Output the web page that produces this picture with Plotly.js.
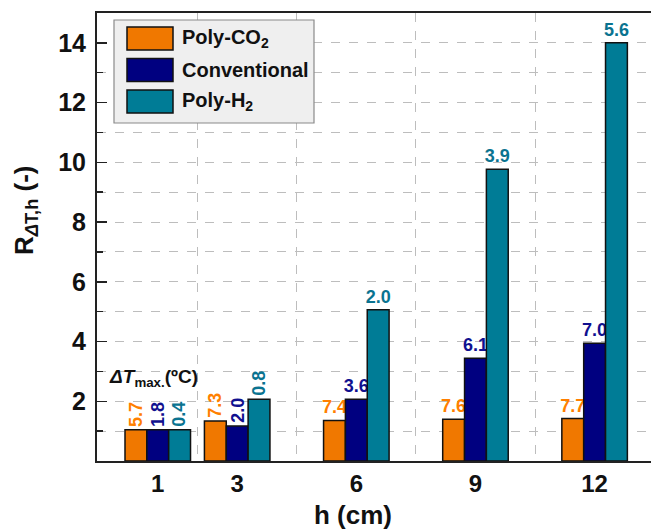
<!DOCTYPE html>
<html>
<head>
<meta charset="utf-8">
<script src="https://cdn.plot.ly/plotly-3.0.1.min.js"></script>
<style>html,body{margin:0;padding:0;background:#fff;}#chart{width:651px;height:530px;}</style>
</head>
<body>
<div id="chart"></div>
<script>
// ---- data ----
const heights = [1, 3, 6, 9, 12];
const seriesNames = ["Poly-CO<sub>2</sub>", "Conventional", "Poly-H<sub>2</sub>"];
const polyCO2 = [1.05, 1.34, 1.36, 1.40, 1.42];
const conventional = [1.05, 1.17, 2.07, 3.44, 3.94];
const polyH2 = [1.05, 2.07, 5.06, 9.77, 14.0];
const dTpolyCO2 = ["5.7", "7.3", "7.4", "7.6", "7.7"];
const dTconventional = ["1.8", "2.0", "3.6", "6.1", "7.0"];
const dTpolyH2 = ["0.4", "0.8", "2.0", "3.9", "5.6"];
const yTickVals = [2, 4, 6, 8, 10, 12, 14];
const groupBounds = [2, 4.5, 7.5, 10.5];

// ---- style ----
const barColors = ["#F07800", "#000080", "#007C96"];
const textColors = ["#FF7F00", "#10108F", "#0A7390"];
const FONT = "'Liberation Sans', Arial, sans-serif";
const nVertical = 2; // first groups carry vertical labels
const BARGAP = 0.175;

const allVals = [polyCO2, conventional, polyH2];
const allText = [dTpolyCO2, dTconventional, dTpolyH2];

// slot geometry of grouped bars (from bargap and the smallest spacing of positions)
let minSpacing = Infinity;
for (let i = 1; i < heights.length; i++) minSpacing = Math.min(minSpacing, heights[i] - heights[i - 1]);
const slotW = minSpacing * (1 - BARGAP) / allVals.length;

const annotations = [];
const traces = allVals.map((vals, s) => ({
  type: "bar",
  x: heights,
  y: vals,
  text: allText[s].map((t, i) => (i < nVertical ? "" : t)),
  name: seriesNames[s],
  offsetgroup: "g" + s,
  showlegend: false,
  textposition: "outside",
  textangle: 0,
  constraintext: "none",
  cliponaxis: false,
  textfont: {family: FONT, size: 18, weight: "bold", color: textColors[s]},
  marker: {color: barColors[s], line: {color: "#111", width: 1.5}},
  hoverinfo: "x+y"
}));

// vertical labels for the first groups
allVals.forEach((vals, s) => {
  for (let i = 0; i < nVertical; i++) {
    annotations.push({
      xref: "x", yref: "y", x: heights[i] + (s - (allVals.length - 1) / 2) * slotW, y: vals[i],
      text: allText[s][i], textangle: -90, showarrow: false,
      xanchor: "center", yanchor: "bottom", yshift: 1,
      font: {family: FONT, size: 18, weight: "bold", color: textColors[s]}
    });
  }
});

// custom legend (shapes + annotations in paper coords)
const L = 97, R = 651, T = 13, B = 461;
const px = v => (v - L) / (R - L);
const py = v => (B - v) / (B - T);
const shapes = [
  {type: "rect", xref: "paper", yref: "paper", x0: px(114), x1: px(314), y0: py(123), y1: py(20),
   fillcolor: "#EFEFEF", line: {color: "#8A8A8A", width: 1.2}, layer: "above"}
];
seriesNames.forEach((n, i) => {
  const yc = 38.5 + i * 31.5;
  shapes.push({type: "rect", xref: "paper", yref: "paper", x0: px(127), x1: px(173),
    y0: py(yc + 11.5), y1: py(yc - 11.5), fillcolor: barColors[i],
    line: {color: "#111", width: 1.5}, layer: "above"});
  annotations.push({xref: "paper", yref: "paper", x: px(180), y: py(yc), xanchor: "left", yanchor: "middle",
    text: n, showarrow: false, font: {family: FONT, size: 20, weight: "bold", color: "#111"}});
});
annotations.push({xref: "x", yref: "y", x: 0.9, y: 2.78, xanchor: "center", yanchor: "middle",
  text: "<i>ΔT</i><sub>max.</sub>(ºC)", showarrow: false,
  font: {family: FONT, size: 19, weight: "bold", color: "#111"}});
annotations.push({xref: "paper", yref: "paper", x: px(25), y: py(211), xanchor: "center", yanchor: "middle",
  textangle: -90, text: "R<sub><i>Δ</i>T,h</sub> (-)", showarrow: false,
  font: {family: FONT, size: 26, weight: "bold", color: "#111"}});
annotations.push({xref: "paper", yref: "paper", x: px(353), y: py(515), xanchor: "center", yanchor: "middle",
  text: "h (cm)", showarrow: false, font: {family: FONT, size: 26, weight: "bold", color: "#111"}});

const layout = {
  width: 651, height: 530,
  margin: {l: L, r: 0, t: T, b: 530 - B},
  paper_bgcolor: "#fff", plot_bgcolor: "#fff",
  barmode: "group", bargap: BARGAP, bargroupgap: 0,
  showlegend: false,
  font: {family: FONT, color: "#111"},
  xaxis: {
    range: [-0.53, 13.42], tickmode: "array", tickvals: heights, ticktext: heights.map(String),
    ticks: "", showgrid: false, zeroline: false,
    showline: true, linewidth: 2, linecolor: "#222", mirror: true,
    tickfont: {family: FONT, size: 24, weight: "bold", color: "#111"},
    minor: {tickmode: "array", tickvals: groupBounds, showgrid: true, gridcolor: "#BDBDBD",
            griddash: "dash", gridwidth: 1, ticks: ""}
  },
  yaxis: {
    range: [0, 15], tickmode: "array", tickvals: yTickVals,
    ticks: "inside", ticklen: 10, tickwidth: 1.5, tickcolor: "#222",
    showgrid: true, gridcolor: "#BDBDBD", griddash: "dash", gridwidth: 1,
    zeroline: false, showline: true, linewidth: 2, linecolor: "#222", mirror: false,
    tickfont: {family: FONT, size: 25, weight: "bold", color: "#111"},
    ticklabelstandoff: 4,
    minor: {dtick: 1, tick0: 0, ticks: "inside", ticklen: 6, tickwidth: 1.5, tickcolor: "#222",
            showgrid: true, gridcolor: "#BDBDBD", griddash: "dash", gridwidth: 1}
  },
  shapes: shapes,
  annotations: annotations
};

Plotly.newPlot("chart", traces, layout, {displayModeBar: false, staticPlot: true});
</script>
</body>
</html>
